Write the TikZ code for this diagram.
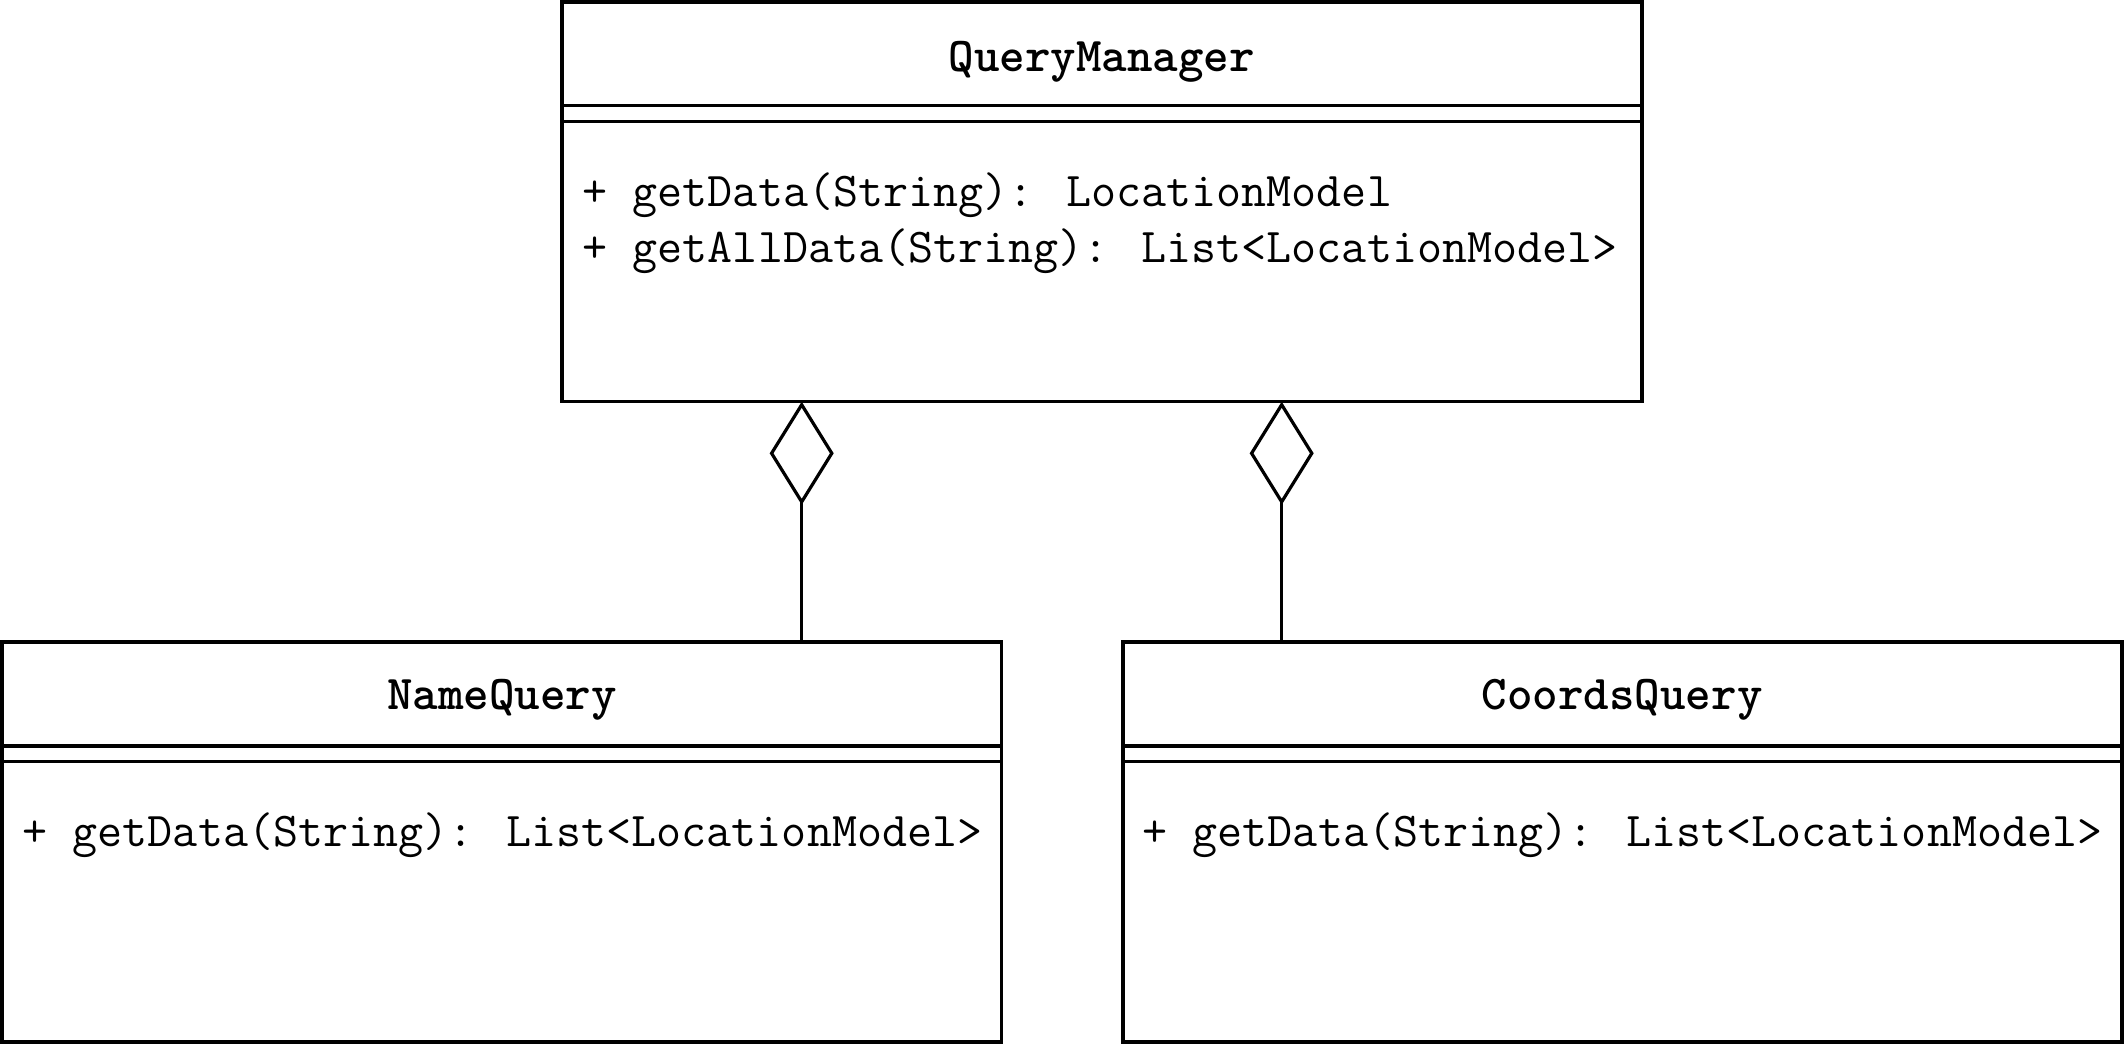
\documentclass[tikz,border=0pt]{standalone}
\usetikzlibrary{arrows.meta,calc}
\begin{document}
\begin{tikzpicture}[x=0.25pt,y=-0.25pt,
  classbox/.style={draw=black,line width=0.9pt,rectangle,inner sep=0pt,outer sep=0pt,anchor=north west},
  sepline/.style={draw=black,line width=0.9pt},
  titletext/.style={inner sep=0pt,anchor=base,font=\fontsize{12.15}{14}\selectfont\ttfamily\bfseries},
  membertext/.style={inner sep=0pt,anchor=base west,font=\fontsize{12.15}{14}\selectfont\ttfamily},
  aggr/.style={draw=black,line width=0.8pt,-{Diamond[open,length=25.8pt,width=16pt,line width=0.8pt]}}
]
\useasboundingbox (0,0) rectangle (2124,1056);
% QueryManager
\node[classbox,minimum width=270pt,minimum height=99.9pt] (qm) at (561.7,2) {};
\draw[sepline] ($(qm.north west)+(0,103.7)$) coordinate (qma) -- (qma -| qm.east);
\draw[sepline] ($(qm.north west)+(0,119.7)$) coordinate (qmb) -- (qmb -| qm.east);
\node[titletext] (qmt) at (1101.7,71.7) {QueryManager};
\node[membertext] (qm1) at (582,206.7) {+ getData(String): LocationModel};
\node[membertext] (qm2) at (582,262.7) {+ getAllData(String): List<LocationModel>};
% NameQuery
\node[classbox,minimum width=249.9pt,minimum height=99.9pt] (nq) at (2,642.3) {};
\draw[sepline] ($(nq.north west)+(0,103.7)$) coordinate (nqa) -- (nqa -| nq.east);
\draw[sepline] ($(nq.north west)+(0,119.4)$) coordinate (nqb) -- (nqb -| nq.east);
\node[titletext] (nqt) at (501.85,710) {NameQuery};
\node[membertext] (nq1) at (22,846.7) {+ getData(String): List<LocationModel>};
% CoordsQuery
\node[classbox,minimum width=249.75pt,minimum height=99.9pt] (cq) at (1122.7,642.3) {};
\draw[sepline] ($(cq.north west)+(0,103.7)$) coordinate (cqa) -- (cqa -| cq.east);
\draw[sepline] ($(cq.north west)+(0,119.4)$) coordinate (cqb) -- (cqb -| cq.east);
\node[titletext] (cqt) at (1622.2,710) {CoordsQuery};
\node[membertext] (cq1) at (1142,846.7) {+ getData(String): List<LocationModel>};
% aggregations
\coordinate (ja) at (801.7,401.7);
\coordinate (jb) at (1281.7,401.7);
\draw[aggr] (nq.north -| ja) -- (ja);
\draw[aggr] (cq.north -| jb) -- (jb);
\end{tikzpicture}
\end{document}
